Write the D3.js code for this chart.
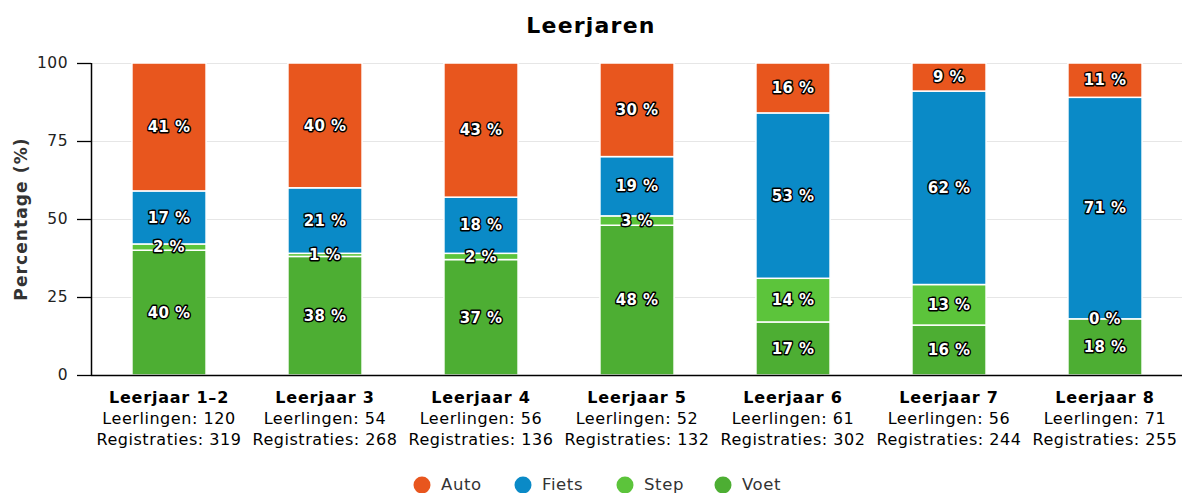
<!DOCTYPE html>
<html><head><meta charset="utf-8">
<script src="https://cdn.jsdelivr.net/npm/d3@7"></script>
<style>
body{margin:0;background:#fff;}
svg{display:block;font-family:"DejaVu Sans",Verdana,sans-serif;}
</style></head>
<body><svg id="c" width="1182" height="493"></svg>
<script>
const categories = ["Leerjaar 1–2","Leerjaar 3","Leerjaar 4","Leerjaar 5","Leerjaar 6","Leerjaar 7","Leerjaar 8"];
const leerlingen = [120,54,56,52,61,56,71];
const registraties = [319,268,136,132,302,244,255];
const seriesNames = ["Voet","Step","Fiets","Auto"];
const voet  = [40,38,37,48,17,16,18];
const step  = [2,1,2,3,14,13,0];
const fiets = [17,21,18,19,53,62,71];
const auto  = [41,40,43,30,16,9,11];
const yTicks = [0,25,50,75,100];
const legendOrder = ["Auto","Fiets","Step","Voet"];
const colors = {Auto:"#E8561E", Fiets:"#0A8AC7", Step:"#5CC43B", Voet:"#4DAE33"};

const svg = d3.select("#c");
const W = 1182, H = 493;
const m = {left:91, right:-1, top:63, bottom:118};
const x = d3.scaleBand().domain(categories).range([m.left, W - m.right]).paddingInner(0.525).paddingOuter(0.2625);
const y = d3.scaleLinear().domain([0,100]).range([375, 63]);

const rows = categories.map((c,i)=>({cat:c, Voet:voet[i], Step:step[i], Fiets:fiets[i], Auto:auto[i]}));
const stack = d3.stack().keys(seriesNames)(rows);

// title
svg.append("text").attr("x", W/2).attr("y", 33).attr("text-anchor","middle")
  .attr("font-size",22).attr("font-weight","bold").attr("letter-spacing",1.2).attr("fill","#000").text("Leerjaren");

// grid
svg.append("g").selectAll("line").data(yTicks.filter(d=>d>0)).join("line")
  .attr("x1", m.left).attr("x2", W).attr("y1", d=>y(d)+0.5).attr("y2", d=>y(d)+0.5)
  .attr("stroke","#e6e6e6").attr("stroke-width",1);

// bars
const g = svg.append("g");
stack.forEach(s=>{
  g.append("g").selectAll("rect").data(s).join("rect")
    .attr("x", d=>x(d.data.cat)).attr("width", x.bandwidth())
    .attr("y", d=>y(d[1])).attr("height", d=>Math.max(0, y(d[0])-y(d[1])))
    .attr("fill", colors[s.key]).attr("stroke","#fff").attr("stroke-width",1.5);
});

// labels
const lg = svg.append("g");
stack.forEach(s=>{
  s.forEach(d=>{
    const cx = x(d.data.cat) + x.bandwidth()/2;
    const cy = (y(d[0])+y(d[1]))/2;
    const t = d.data[s.key] + " %";
    lg.append("text").attr("x",cx).attr("y",cy).attr("dy","0.35em").attr("text-anchor","middle")
      .attr("font-size",15).attr("font-weight","bold").attr("letter-spacing",0.4).attr("fill","#fff")
      .attr("stroke","#000").attr("stroke-width",2.8).attr("stroke-linejoin","round")
      .attr("paint-order","stroke").text(t);
  });
});

// y axis
const ya = svg.append("g");
ya.append("line").attr("x1",m.left+0.5).attr("x2",m.left+0.5).attr("y1",y(100)).attr("y2",y(0)).attr("stroke","#000").attr("stroke-width",1.5);
ya.selectAll(".tk").data(yTicks).join("line").attr("x1",77).attr("x2",m.left).attr("y1",d=>y(d)+0.5).attr("y2",d=>y(d)+0.5).attr("stroke","#000").attr("stroke-width",1.3);
ya.selectAll(".tl").data(yTicks).join("text").attr("x",68).attr("y",d=>y(d)).attr("dy","0.35em")
  .attr("text-anchor","end").attr("font-size",15.5).attr("letter-spacing",0.5).attr("fill","#222").text(d=>d);
svg.append("text").attr("transform",`translate(27,${y(50)}) rotate(-90)`).attr("text-anchor","middle")
  .attr("font-size",17).attr("font-weight","bold").attr("letter-spacing",1.1).attr("fill","#333").text("Percentage (%)");

// x axis
svg.append("line").attr("x1",m.left).attr("x2",W).attr("y1",y(0)+0.5).attr("y2",y(0)+0.5).attr("stroke","#000").attr("stroke-width",1.5);
const xl = svg.append("g");
categories.forEach((c,i)=>{
  const cx = x(c)+x.bandwidth()/2;
  xl.append("text").attr("x",cx).attr("y",403).attr("text-anchor","middle").attr("font-size",16).attr("letter-spacing",0.8).attr("font-weight","bold").attr("fill","#000").text(c);
  xl.append("text").attr("x",cx).attr("y",424).attr("text-anchor","middle").attr("font-size",16).attr("letter-spacing",0.55).attr("fill","#000").text("Leerlingen: "+leerlingen[i]);
  xl.append("text").attr("x",cx).attr("y",445).attr("text-anchor","middle").attr("font-size",16).attr("letter-spacing",0.55).attr("fill","#000").text("Registraties: "+registraties[i]);
});

// legend
const legX = [422,523,625,723];
const leg = svg.append("g");
legendOrder.forEach((k,i)=>{
  leg.append("circle").attr("cx",legX[i]).attr("cy",485).attr("r",8.5).attr("fill",colors[k]);
  leg.append("text").attr("x",legX[i]+19).attr("y",484).attr("dy","0.35em").attr("font-size",16.5).attr("letter-spacing",0.6).attr("fill","#333").text(k);
});
</script></body></html>
